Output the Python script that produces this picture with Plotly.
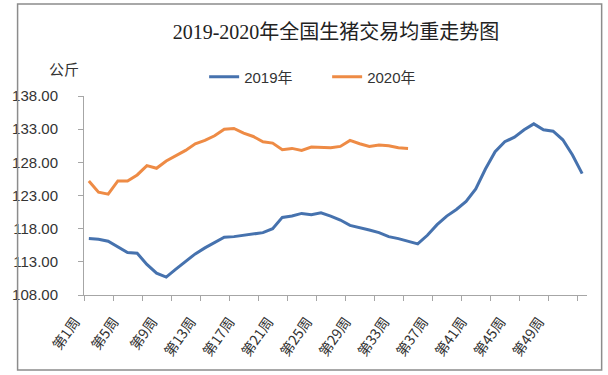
import plotly.graph_objects as go

# ---- data ----
weeks_2019 = list(range(1, 53))
weight_2019 = [116.5, 116.4, 116.1, 115.3, 114.4, 114.3, 112.6, 111.3, 110.7, 111.9,
               113.1, 114.2, 115.1, 115.9, 116.7, 116.8, 117.0, 117.1, 117.4, 118.0,
               119.7, 119.9, 120.3, 120.1, 120.4, 119.9, 119.3, 118.5, 118.2, 117.8,
               117.4, 116.8, 116.5, 116.1, 115.7, 117.0, 118.6, 119.9, 120.9, 122.1,
               124.0, 127.0, 129.6, 131.1, 131.8, 132.9, 133.8, 132.9, 132.7, 131.4,
               129.1, 126.3]
weeks_2020 = list(range(1, 35))
weight_2020 = [125.2, 123.5, 123.2, 125.2, 125.2, 126.1, 127.5, 127.1, 128.2, 129.0,
               129.8, 130.8, 131.3, 132.0, 133.0, 133.1, 132.4, 131.9, 131.1, 130.9,
               129.9, 130.1, 129.8, 130.3, 130.3, 130.2, 130.4, 131.3, 130.8, 130.4,
               130.6, 130.5, 130.2, 130.1]
tick_weeks = [1, 5, 9, 13, 17, 21, 25, 29, 33, 37, 41, 45, 49]
tick_labels = ["第1周", "第5周", "第9周", "第13周", "第17周", "第21周", "第25周",
               "第29周", "第33周", "第37周", "第41周", "第45周", "第49周"]
series_names = ["2019年", "2020年"]
title_text = "2019-2020年全国生猪交易均重走势图"
unit_text = "公斤"

BLUE = "#4672AE"
ORANGE = "#EE8B45"
AXIS = "#A6A6A6"
SANS = "Liberation Sans, Noto Sans CJK SC, sans-serif"
CJK = "Noto Sans CJK SC, Liberation Sans, sans-serif"

fig = go.Figure()
fig.add_trace(go.Scatter(x=weeks_2019, y=weight_2019, mode="lines", name=series_names[0],
                         line=dict(color=BLUE, width=3)))
fig.add_trace(go.Scatter(x=weeks_2020, y=weight_2020, mode="lines", name=series_names[1],
                         line=dict(color=ORANGE, width=3)))

L, R, T, B = 72, 21, 96, 80
W, H = 608, 375
pw, ph = W - L - R, H - T - B


def px(xp):
    return (xp - L) / pw


def py(yp):
    return (H - B - yp) / ph


fig.update_layout(
    width=W, height=H,
    margin=dict(l=L, r=R, t=T, b=B),
    paper_bgcolor="white", plot_bgcolor="white",
    title=dict(text=title_text, x=px(330), xref="paper", xanchor="center",
               y=1 - 32 / H, yanchor="middle",
               font=dict(family="Liberation Serif, Noto Sans CJK SC, serif", size=20, color="#222222")),
    legend=dict(orientation="h", x=px(195), xanchor="left", y=py(77), yanchor="middle",
                font=dict(family=SANS, size=15, color="#333333"),
                bgcolor="rgba(0,0,0,0)", entrywidth=78, entrywidthmode="pixels",
                tracegroupgap=0),
    xaxis=dict(range=[0.5, 52.5], showgrid=False, zeroline=False,
               showline=True, linecolor=AXIS, linewidth=1,
               tickmode="array", tickvals=tick_weeks, ticktext=tick_labels,
               ticks="outside", ticklen=12, tickcolor="rgba(0,0,0,0)", tickangle=-55,
               ticklabelshift=-14,
               tickfont=dict(family=CJK, size=14, color="#333333"),
               minor=dict(tick0=0.5, dtick=3, ticks="outside", ticklen=5,
                          tickcolor=AXIS, tickwidth=1, showgrid=False)),
    yaxis=dict(range=[108, 138], tick0=108, dtick=5, tickformat=".2f",
               showgrid=False, zeroline=False,
               showline=True, linecolor=AXIS, linewidth=1,
               ticks="outside", ticklen=5, tickcolor=AXIS,
               ticklabelstandoff=17,
               tickfont=dict(family=SANS, size=15, color="#333333")),
    annotations=[dict(text=unit_text, xref="paper", yref="paper", x=px(52), y=py(68),
                      xanchor="center", yanchor="middle", showarrow=False,
                      font=dict(family=CJK, size=15, color="#333333"))],
    shapes=[dict(type="rect", xref="paper", yref="paper",
                 x0=px(4), x1=px(602), y0=py(370), y1=py(4),
                 line=dict(color="#8C8C8C", width=1.5), fillcolor="rgba(0,0,0,0)", layer="above")],
)

fig.write_html("out.html", config={"displayModeBar": False},
               post_script="document.body.style.margin='0';")
